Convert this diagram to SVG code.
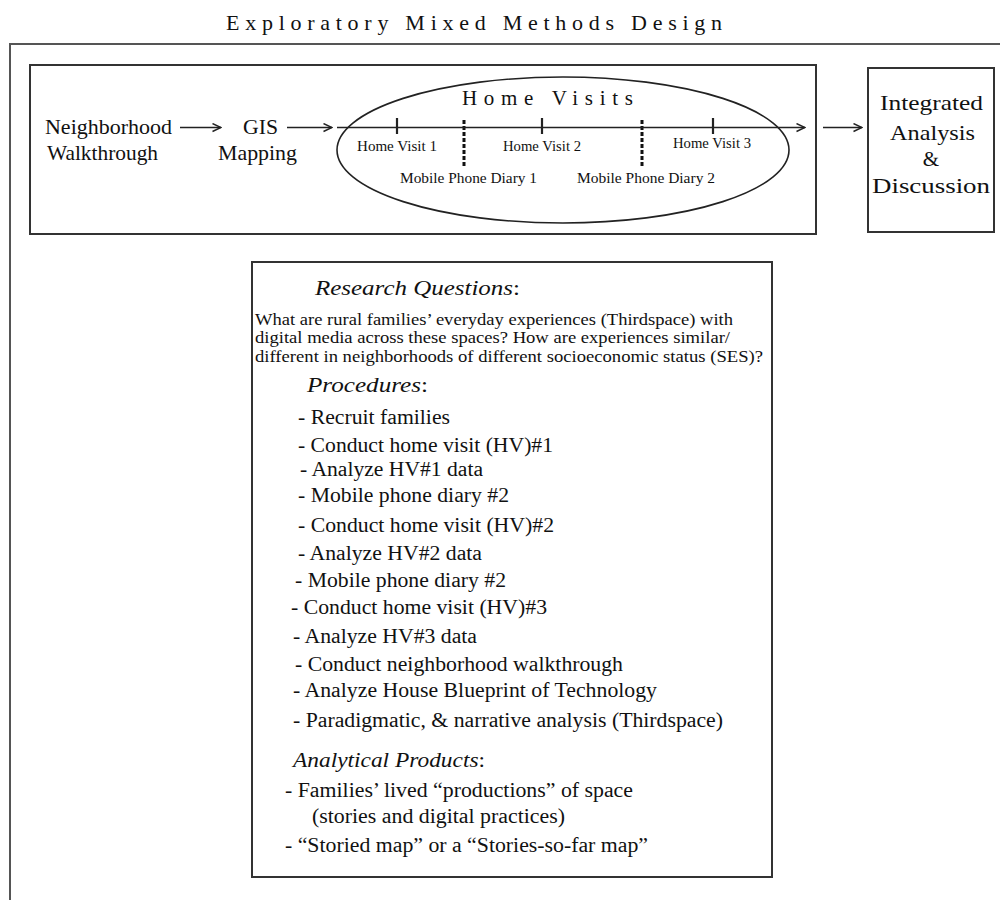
<svg xmlns="http://www.w3.org/2000/svg" width="1000" height="900" viewBox="0 0 1000 900" font-family="'Liberation Serif', serif">
<style>
  text { font-family: 'Liberation Serif', serif; fill: #111; }
  .box { fill: none; stroke: #333; stroke-width: 2; }
  .frame { fill: none; stroke: #555; stroke-width: 2; }
  .conn { stroke: #222; stroke-width: 1.4; fill: none; }
  .tick { stroke: #222; stroke-width: 2.2; }
  .dtick { stroke: #111; stroke-width: 3; stroke-dasharray: 4 2; }
  .big { font-size: 21px; }
  .sm { font-size: 14.5px; }
  .q { font-size: 16.5px; }
  .li { font-size: 20px; }
  .hd { font-size: 22px; font-style: italic; }
</style>
<defs>
  <marker id="arr" viewBox="0 0 10 10" refX="9.5" refY="5" markerWidth="10" markerHeight="10" markerUnits="userSpaceOnUse" orient="auto">
    <path d="M1,1 L9.5,5 L1,9" fill="none" stroke="#222" stroke-width="1.4"/>
  </marker>
</defs>

<text x="226" y="30" font-size="22" textLength="496" lengthAdjust="spacing">Exploratory  Mixed Methods Design</text>

<path class="frame" d="M10,900 V44 H1000"/>

<g id="top-box">
  <rect class="box" x="30" y="65" width="786" height="169"/>
</g>

<g id="neighborhood-walkthrough">
  <text class="big" x="45" y="134" textLength="127" lengthAdjust="spacingAndGlyphs">Neighborhood</text>
  <text class="big" x="47" y="160" textLength="111" lengthAdjust="spacingAndGlyphs">Walkthrough</text>
</g>

<g id="gis-mapping">
  <text class="big" x="243" y="134" textLength="35" lengthAdjust="spacingAndGlyphs">GIS</text>
  <text class="big" x="218" y="160" textLength="79" lengthAdjust="spacingAndGlyphs">Mapping</text>
</g>

<g id="home-visits">
  <ellipse cx="563" cy="150" rx="226" ry="73" fill="none" stroke="#222" stroke-width="1.6"/>
  <text x="462" y="105" font-size="21" textLength="171" lengthAdjust="spacing">Home  Visits</text>
  <line class="tick" x1="397" y1="118" x2="397" y2="134"/>
  <line class="tick" x1="542" y1="118" x2="542" y2="134"/>
  <line class="tick" x1="713" y1="118" x2="713" y2="134"/>
  <line class="dtick" x1="464" y1="120" x2="464" y2="167"/>
  <line class="dtick" x1="642" y1="120" x2="642" y2="167"/>
  <text class="sm" x="357" y="151" textLength="80" lengthAdjust="spacingAndGlyphs">Home Visit 1</text>
  <text class="sm" x="503" y="151" textLength="78" lengthAdjust="spacingAndGlyphs">Home Visit 2</text>
  <text class="sm" x="673" y="148" textLength="78" lengthAdjust="spacingAndGlyphs">Home Visit 3</text>
  <text class="sm" x="400" y="183" textLength="137" lengthAdjust="spacingAndGlyphs">Mobile Phone Diary 1</text>
  <text class="sm" x="577" y="183" textLength="138" lengthAdjust="spacingAndGlyphs">Mobile Phone Diary 2</text>
</g>

<g id="integrated-analysis">
  <rect class="box" x="868" y="68" width="126" height="164"/>
  <text class="big" x="880" y="110" textLength="103" lengthAdjust="spacingAndGlyphs">Integrated</text>
  <text class="big" x="890" y="140" textLength="85" lengthAdjust="spacingAndGlyphs">Analysis</text>
  <text class="big" x="931" y="166" text-anchor="middle">&amp;</text>
  <text class="big" x="872" y="193" textLength="118" lengthAdjust="spacingAndGlyphs">Discussion</text>
</g>

<g id="connectors">
  <line class="conn" x1="180" y1="127.5" x2="221" y2="127.5" marker-end="url(#arr)"/>
  <line class="conn" x1="287" y1="127.5" x2="332" y2="127.5" marker-end="url(#arr)"/>
  <line class="conn" x1="337" y1="127.5" x2="805" y2="127.5" marker-end="url(#arr)"/>
  <line class="conn" x1="823" y1="127.5" x2="862" y2="127.5" marker-end="url(#arr)"/>
</g>

<g id="details-box">
  <rect class="box" x="252" y="262" width="520" height="615"/>
  <text class="hd" x="315" y="295" textLength="205" lengthAdjust="spacingAndGlyphs">Research Questions<tspan font-style="normal">:</tspan></text>
  <text class="q" x="255" y="325" textLength="478" lengthAdjust="spacingAndGlyphs">What are rural families’ everyday experiences (Thirdspace) with</text>
  <text class="q" x="255" y="343" textLength="475" lengthAdjust="spacingAndGlyphs">digital media across these spaces? How are experiences similar/</text>
  <text class="q" x="255" y="362" textLength="508" lengthAdjust="spacingAndGlyphs">different in neighborhoods of different socioeconomic status (SES)?</text>
  <text class="hd" x="307" y="392" textLength="121" lengthAdjust="spacingAndGlyphs">Procedures<tspan font-style="normal">:</tspan></text>
  <text class="li" x="298" y="424" textLength="152" lengthAdjust="spacingAndGlyphs">- Recruit families</text>
  <text class="li" x="298" y="452" textLength="255" lengthAdjust="spacingAndGlyphs">- Conduct home visit (HV)#1</text>
  <text class="li" x="300" y="476" textLength="183" lengthAdjust="spacingAndGlyphs">- Analyze HV#1 data</text>
  <text class="li" x="298" y="502" textLength="211" lengthAdjust="spacingAndGlyphs">- Mobile phone diary #2</text>
  <text class="li" x="298" y="532" textLength="256" lengthAdjust="spacingAndGlyphs">- Conduct home visit (HV)#2</text>
  <text class="li" x="298" y="560" textLength="184" lengthAdjust="spacingAndGlyphs">- Analyze HV#2 data</text>
  <text class="li" x="295" y="587" textLength="211" lengthAdjust="spacingAndGlyphs">- Mobile phone diary #2</text>
  <text class="li" x="291" y="614" textLength="256" lengthAdjust="spacingAndGlyphs">- Conduct home visit (HV)#3</text>
  <text class="li" x="293" y="643" textLength="184" lengthAdjust="spacingAndGlyphs">- Analyze HV#3 data</text>
  <text class="li" x="295" y="671" textLength="328" lengthAdjust="spacingAndGlyphs">- Conduct neighborhood walkthrough</text>
  <text class="li" x="293" y="697" textLength="364" lengthAdjust="spacingAndGlyphs">- Analyze House Blueprint of Technology</text>
  <text class="li" x="293" y="727" textLength="430" lengthAdjust="spacingAndGlyphs">- Paradigmatic, &amp; narrative analysis (Thirdspace)</text>
  <text class="hd" x="293" y="767" textLength="192" lengthAdjust="spacingAndGlyphs">Analytical Products<tspan font-style="normal">:</tspan></text>
  <text class="li" x="285" y="797" textLength="348" lengthAdjust="spacingAndGlyphs">- Families’ lived “productions” of space</text>
  <text class="li" x="312" y="823" textLength="253" lengthAdjust="spacingAndGlyphs">(stories and digital practices)</text>
  <text class="li" x="285" y="852" textLength="363" lengthAdjust="spacingAndGlyphs">- “Storied map” or a “Stories-so-far map”</text>
</g>
</svg>
